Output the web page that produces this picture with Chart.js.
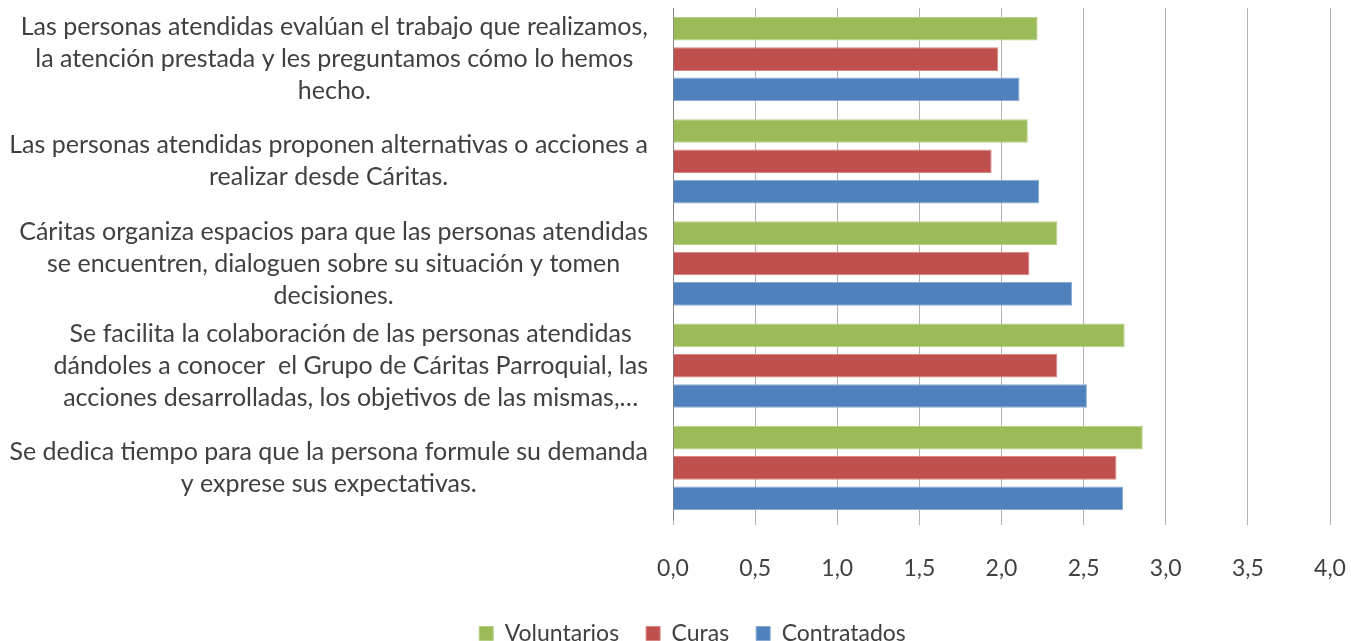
<!DOCTYPE html>
<html>
<head>
<meta charset="utf-8">
<script src="https://cdn.jsdelivr.net/npm/chart.js@4"></script>
<style>
  html, body { margin: 0; padding: 0; background: #fff; overflow: hidden; }
  #wrap { width: 1351px; height: 655px; }
</style>
</head>
<body>
<div id="wrap"><canvas id="myChart"></canvas></div>
<script>
// categories (one array of lines per label), top to bottom
const categories = [
  ["Las personas atendidas evalúan el trabajo que realizamos,", "la atención prestada y les preguntamos cómo lo hemos", "hecho."],
  ["Las personas atendidas proponen alternativas o acciones a", "realizar desde Cáritas."],
  ["Cáritas organiza espacios para que las personas atendidas", "se encuentren, dialoguen sobre su situación y tomen", "decisiones."],
  ["Se facilita la colaboración de las personas atendidas", "dándoles a conocer  el Grupo de Cáritas Parroquial, las", "acciones desarrolladas, los objetivos de las mismas,…"],
  ["Se dedica tiempo para que la persona formule su demanda", "y exprese sus expectativas."]
];
const voluntarios = [2.22, 2.16, 2.34, 2.75, 2.86];
const curas = [1.98, 1.94, 2.17, 2.34, 2.70];
const contratados = [2.11, 2.23, 2.43, 2.52, 2.74];
const seriesNames = ["Voluntarios", "Curas", "Contratados"];
const tickMin = 0, tickMax = 4, tickStep = 0.5;

const FONT = 'Lato';
const TEXT = '#404040';

// draws the category labels centred per block, like Excel does
const yLabels = {
  id: 'yLabels',
  afterDraw(chart) {
    const ctx = chart.ctx;
    const y = chart.scales.y;
    const lineH = 32;
    ctx.save();
    ctx.font = '25px ' + FONT;
    ctx.fillStyle = TEXT;
    ctx.textAlign = 'center';
    ctx.textBaseline = 'middle';
    const right = y.right - 25;
    categories.forEach((lines, i) => {
      const w = Math.max(...lines.map(l => ctx.measureText(l).width));
      const cx = right - w / 2;
      const cy = y.getPixelForValue(i);
      lines.forEach((l, j) => {
        ctx.fillText(l, cx, cy + (j - (lines.length - 1) / 2) * lineH);
      });
    });
    ctx.restore();
  }
};

const ctx = document.getElementById('myChart').getContext('2d');
const chart = new Chart(ctx, {
  type: 'bar',
  data: {
    labels: categories.map(c => c.join(' ')),
    datasets: [
      { label: seriesNames[0], data: voluntarios, backgroundColor: '#9bbb59', borderColor: '#b5cf85', borderWidth: 1 },
      { label: seriesNames[1], data: curas, backgroundColor: '#c0504d', borderColor: '#d98583', borderWidth: 1 },
      { label: seriesNames[2], data: contratados, backgroundColor: '#4f81bd', borderColor: '#8aaad3', borderWidth: 1 }
    ]
  },
  options: {
    indexAxis: 'y',
    responsive: true,
    maintainAspectRatio: false,
    animation: false,
    categoryPercentage: 0.89,
    barPercentage: 0.78,
    layout: { padding: { top: 8, right: 0, left: 34, bottom: 0 } },
    scales: {
      x: {
        min: tickMin,
        max: tickMax,
        ticks: {
          stepSize: tickStep,
          color: TEXT,
          font: { family: FONT, size: 23 },
          padding: 30,
          callback: v => v.toFixed(1).replace('.', ',')
        },
        grid: { color: '#b3b3b3', lineWidth: 1, tickLength: 6 },
        border: { display: false },
        afterFit: s => {
          s.height = 76;
          s.paddingRight = 21;
          s.paddingLeft = 0;
        }
      },
      y: {
        ticks: { display: false },
        grid: { display: false },
        border: { display: true, color: '#868686', width: 1 },
        afterFit: s => { s.width = 639; }
      }
    },
    plugins: {
      legend: {
        position: 'bottom',
        labels: {
          color: TEXT,
          font: { family: FONT, size: 23 },
          boxWidth: 14,
          boxHeight: 14,
          padding: 27
        }
      },
      tooltip: { enabled: false }
    }
  },
  plugins: [yLabels]
});
</script>
</body>
</html>
